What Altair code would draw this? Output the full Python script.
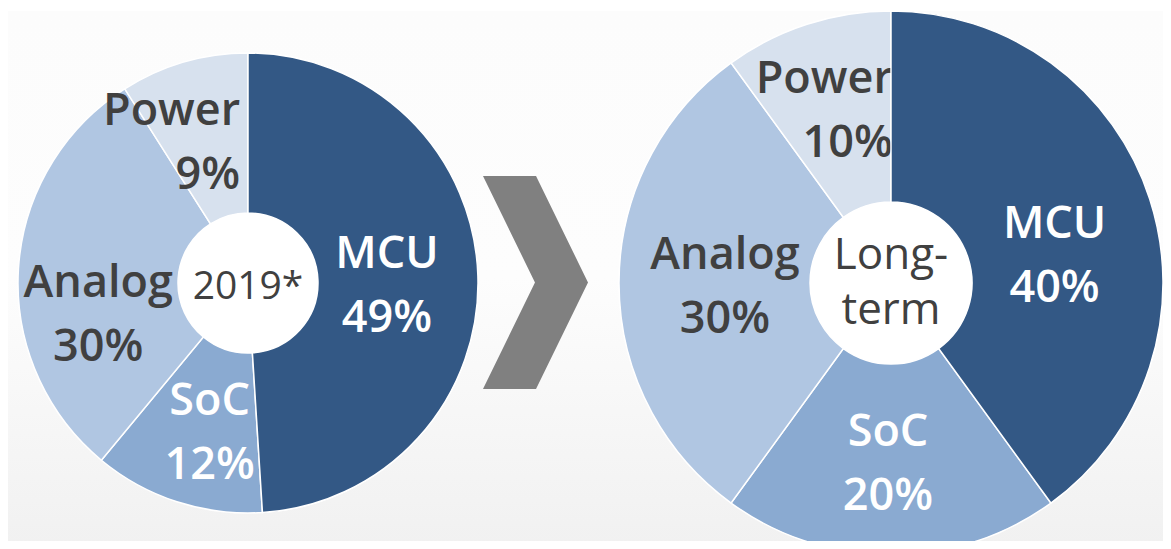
import altair as alt
import pandas as pd

categories = ["MCU", "SoC", "Analog", "Power"]
share_2019 = [49, 12, 30, 9]
share_longterm = [40, 20, 30, 10]
center_2019 = "2019*"
center_longterm = "Long-\nterm"
slice_colors = ["#335885", "#8aaad1", "#b0c6e2", "#d7e1ee"]
light_text = ["MCU", "SoC"]

W, H = 1155, 533
FONT = "Open Sans"
theta_scale = alt.Scale(domain=[0, 100])
color_scale = alt.Scale(domain=categories, range=slice_colors)
text_color = alt.condition(
    alt.FieldOneOfPredicate(field="cat", oneOf=light_text),
    alt.value("white"), alt.value("#404040"))

# label nudges (dx, dy, align) relative to the slice mid-angle anchor
left_nudge = {"MCU": (-11, -24, "center"), "SoC": (8, -25, "center"),
              "Analog": (0, 9, "center"), "Power": (34, -28, "right")}
right_nudge = {"MCU": (0, -6, "center"), "SoC": (-3, -23, "center"),
               "Analog": (6, -28, "center"), "Power": (55, -40, "right")}


def pie(shares, center, cx, cy, ro, ri, rl, csize, clh, cdy, nudge):
    df = pd.DataFrame({"cat": categories, "val": shares, "idx": list(range(len(categories)))})
    base = (alt.Chart(df)
            .transform_window(cum="sum(val)", sort=[alt.SortField("idx")], frame=[None, 0])
            .transform_calculate(start="datum.cum - datum.val",
                                 mid="datum.cum - datum.val / 2",
                                 label="datum.cat + '\\n' + datum.val + '%'"))

    def arc(b):
        return b.mark_arc(x=cx, y=cy, radius=ro, radius2=ri, stroke="white", strokeWidth=1.5).encode(
            theta=alt.Theta("start:Q", scale=theta_scale), theta2="cum:Q",
            color=alt.Color("cat:N", scale=color_scale, legend=None))

    def label(cat):
        dx, dy, align = nudge[cat]
        return base.transform_filter(f"datum.cat == '{cat}'").mark_text(
            x=cx, y=cy, radius=rl, font=FONT, fontSize=45, fontWeight=600,
            lineBreak="\n", lineHeight=64, dx=dx, dy=dy, align=align).encode(
            theta=alt.Theta("mid:Q", scale=theta_scale), text="label:N", color=text_color)

    layers = [arc(base)]
    layers += [label(c) for c in categories if c != "MCU"]
    layers.append(arc(base.transform_filter("datum.cat == 'MCU'")))
    layers.append(label("MCU"))
    cdf = pd.DataFrame({"t": [center]})
    layers.append(alt.Chart(cdf).mark_point(shape="circle", filled=True, opacity=1, color="white",
                                            size=(2 * ri) ** 2, strokeWidth=0).encode(
        x=alt.value(cx), y=alt.value(cy)))
    layers.append(alt.Chart(cdf).mark_text(font=FONT, fontSize=csize, color="#404040",
                                           lineBreak="\n", lineHeight=clh, dy=cdy).encode(
        x=alt.value(cx), y=alt.value(cy), text="t:N"))
    return layers


one = pd.DataFrame({"k": [0]})
bg = alt.Chart(one).mark_rect(color=alt.Gradient(
    gradient="linear", x1=0, y1=0, x2=0, y2=1,
    stops=[alt.GradientStop(offset=0, color="#fcfcfc"),
           alt.GradientStop(offset=0.5, color="#fdfdfd"),
           alt.GradientStop(offset=1, color="#f1f1f1")])).encode(
    x=alt.value(0), x2=alt.value(W), y=alt.value(0), y2=alt.value(H))

chevron = "M -0.493 -1 L 0.005 -1 L 0.493 0 L 0.005 1 L -0.493 1 L -0.005 0 Z"
arrow = alt.Chart(one).mark_point(shape=chevron, size=213 ** 2, filled=True, opacity=1,
                                  color="#808080", strokeWidth=0).encode(
    x=alt.value(527.5), y=alt.value(271.5))

left = pie(share_2019, center_2019, 240, 272, 230, 70, 150, 39, 48, 4, left_nudge)
right = pie(share_longterm, center_longterm, 883, 272, 272, 81, 172, 44, 55, -27, right_nudge)

chart = alt.layer(bg, arrow, *left, *right).properties(
    width=W, height=H, padding=0,
    autosize=alt.AutoSizeParams(type="fit", contains="padding")
).configure_view(strokeWidth=0)

chart.save("out.html", embed_options={"renderer": "svg", "actions": False})
